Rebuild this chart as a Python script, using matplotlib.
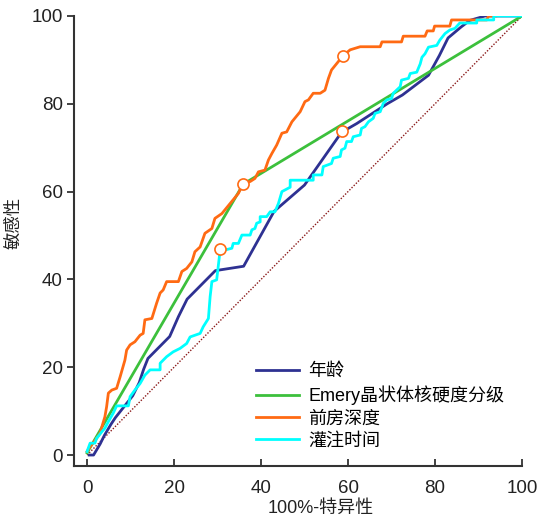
import matplotlib
matplotlib.use("Agg")
import matplotlib.pyplot as plt

plt.rcParams['font.family'] = ['Liberation Sans', 'Noto Sans CJK SC', 'DejaVu Sans']

# 年龄
age_x = [0.5, 1.5, 3, 4, 5.5, 6.5, 8.5, 10.5, 12, 13, 14, 16.5, 19, 21, 23, 26, 29.5, 36,
         43, 46.5, 50, 58.5, 62, 69, 72.5, 78.5, 81, 83, 86, 88, 91.5, 100]
age_y = [0, 0, 2.5, 4.5, 7, 8.5, 11, 13.5, 16.5, 19.5, 22, 24.5, 27, 31.5, 35.5, 38.5, 42, 43,
         55.5, 58.5, 61.5, 73.5, 75.5, 80, 82, 86.5, 91, 95, 97.5, 99, 100, 100]

# Emery晶状体核硬度分级
emery_x = [0, 35.9, 100]
emery_y = [0.5, 61.7, 100]

# 前房深度
acd_x = [0, 0.7, 2, 3, 3.4, 4.1, 4.5, 4.9, 5.7, 6.8, 7.6, 8.7, 9.1, 9.9, 11, 12.2, 12.9, 13.3,
         14.9, 16, 16.8, 17.5, 18.3, 21, 21.8, 22.9, 24.1, 24.8, 26, 27.1, 28.7, 29.4, 31, 32.9,
         34.8, 35.9, 37.5, 38.6, 39.4, 40.9, 41.7, 42.5, 43.6, 44.8, 45.9, 47.1, 49, 50.1, 50.9,
         52, 53.6, 54.7, 55.5, 56.2, 58.9, 60.5, 62.8, 67.4, 67.8, 72.3, 72.7, 77.7, 78.2, 79.6,
         79.9, 83.4, 83.8, 91.9, 92.3, 94]
acd_y = [0.8, 1.9, 3.5, 5, 6.4, 8.7, 11, 14.1, 14.8, 15.2, 17.8, 21.6, 23.9, 25.1, 25.8, 27.3,
         27.7, 30.8, 31.1, 34.6, 36.9, 37.6, 39.5, 39.5, 41.8, 42.5, 44, 46.3, 47.4, 50.5, 51.6,
         53.9, 55, 57.3, 59.6, 61.9, 62.3, 63, 64.5, 64.9, 67.2, 68.7, 70.6, 73.3, 73.6, 75.9,
         78.2, 80.5, 80.9, 82.4, 82.4, 83.1, 85.8, 87.7, 91, 92.3, 93, 93, 94.1, 94.1, 95.4, 95.4,
         96.6, 96.6, 97.7, 97.7, 99.1, 99.1, 100, 100]

# 灌注时间
perf_x = [0, 0.7, 1.8, 2.2, 3.4, 4.1, 4.9, 6, 6.8, 9.5, 9.9, 11, 12.2, 13.3, 14.5, 16.8, 16.8,
          18.3, 19.8, 21.4, 22.9, 23.7, 26, 26.7, 27.9, 28.3, 28.7, 29.8, 30.6, 31.7, 33.3, 33.6,
          34.8, 35.6, 37.5, 37.9, 38.6, 39, 39.8, 39.8, 41.3, 42.1, 43.2, 44, 44.8, 46.7, 46.7,
          52, 52, 54, 54.3, 56.2, 56.6, 58.2, 58.5, 59.3, 59.7, 60.8, 61.2, 62.8, 63.1, 63.9,
          64.7, 65.8, 66.2, 67.4, 68.1, 68.9, 70, 70.4, 72, 72.3, 73.9, 74.3, 75.8, 76.6, 77,
          77.7, 78.5, 80.4, 81.1, 82.3, 83.4, 84.6, 85.7, 89.6, 89.6, 93.5, 93.5, 100]
perf_y = [0.8, 2.7, 2.7, 3.8, 5.3, 6.1, 7.6, 9.5, 11.2, 11.2, 13.3, 14.8, 16.3, 18.2, 19.4, 19.4,
          20.9, 22.4, 23.5, 24.3, 25.4, 26.9, 27.7, 29.2, 31.1, 36.1, 39.5, 39.9, 46.7, 46.7,
          47.1, 48.2, 48.2, 50.1, 50.1, 51.3, 51.6, 52.8, 53.1, 54.3, 54.3, 55.4, 55.4, 57.3,
          60, 61, 62.6, 62.6, 63.8, 63.8, 65.7, 66.4, 67.6, 68, 69.5, 69.9, 71.4, 71.4, 72.5,
          72.9, 74.4, 74.8, 75.9, 76.7, 77.8, 78.2, 80.1, 80.9, 81.2, 82.4, 83.9, 85.4, 85.8,
          86.9, 87.2, 89.1, 90.6, 91.4, 92.9, 93.3, 94.5, 96, 96.8, 97.2, 98.4, 98.4, 99.1, 99.1,
          100, 100]

# cut-off points
cut_x = [58.6, 35.9, 58.9, 30.6]
cut_y = [73.8, 61.7, 90.9, 46.9]

ticks = [0, 20, 40, 60, 80, 100]

fig = plt.figure(figsize=(5.39, 5.21), dpi=100)
ax = fig.add_axes([74/539, 55/521, 448/539, 450/521])

ax.plot([0, 100], [0, 100], color='#8b1a1a', lw=1, ls=(0, (1, 1.2)))
ax.plot(age_x, age_y, color='#2e3192', lw=2, label='年龄')
ax.plot(emery_x, emery_y, color='#3cc03c', lw=2, label='Emery晶状体核硬度分级')
ax.plot(acd_x, acd_y, color='#ff6a13', lw=2, label='前房深度')
ax.plot(perf_x, perf_y, color='#00ffff', lw=2, label='灌注时间')
ax.plot(cut_x, cut_y, ls='none', marker='o', ms=8, mfc='white', mec='#ff6a13', mew=1.2)

ax.set_xlim(-3, 100)
ax.set_ylim(-2.5, 100)
ax.set_xticks(ticks)
ax.set_yticks(ticks)
ax.spines['top'].set_visible(False)
ax.spines['right'].set_visible(False)
for s in ['left', 'bottom']:
    ax.spines[s].set_linewidth(1.5)
    ax.spines[s].set_color('#333333')
ax.tick_params(axis='y', direction='out', length=5, width=1.3, colors='#333333',
               labelsize=13.5, labelcolor='#222222', pad=3)
ax.tick_params(axis='x', direction='in', length=5, width=1.3, colors='#333333',
               labelsize=13.5, labelcolor='#222222', pad=10)

ax.set_xlabel('100%-特异性', fontsize=13, color='#222222')
ax.xaxis.set_label_coords(0.55, -0.076)
ax.set_ylabel('敏感性', fontsize=12.5, color='#222222')
ax.yaxis.set_label_coords(-0.118, 0.54)

ax.legend(loc='lower left', bbox_to_anchor=(0.37, 0.0), frameon=False, fontsize=13,
          handlelength=2.4, handletextpad=0.5, labelspacing=0.3)

fig.savefig('out.png', dpi=100)
